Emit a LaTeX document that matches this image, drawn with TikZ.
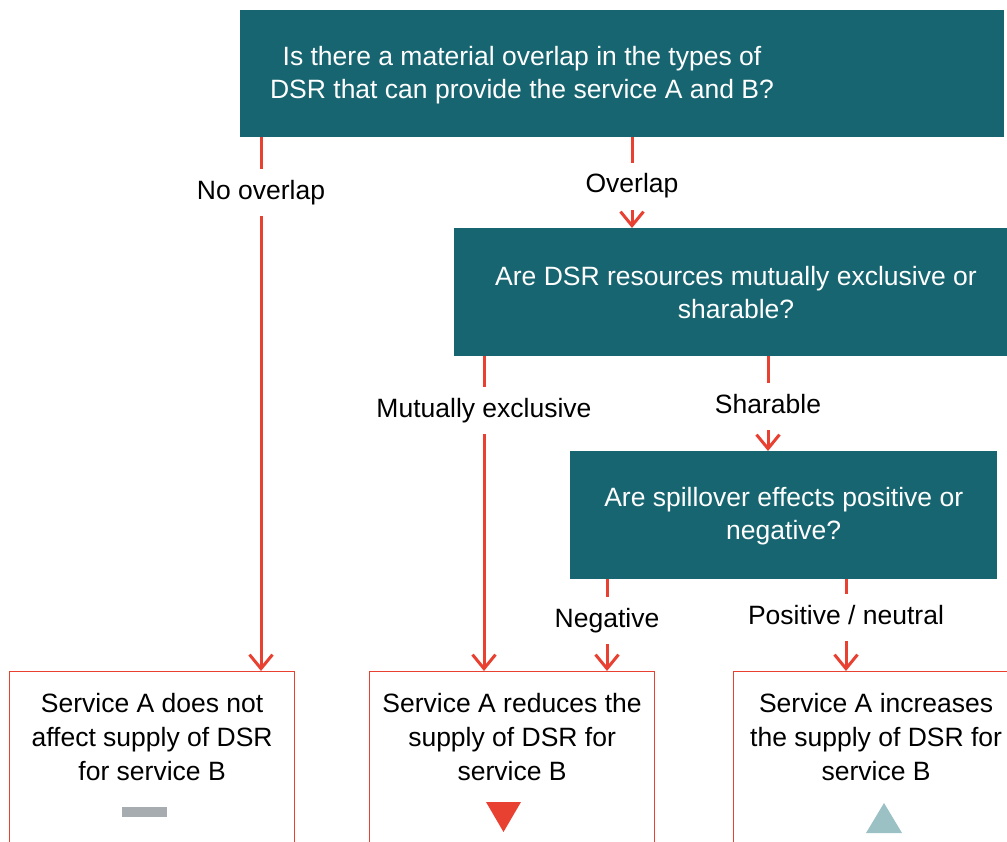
\documentclass[tikz,border=0pt]{standalone}
\usepackage{fontspec}
\setmainfont{Liberation Sans}
\usetikzlibrary{arrows.meta}
\definecolor{tealbox}{RGB}{23,101,112}
\definecolor{redline}{RGB}{232,65,50}
\definecolor{greymark}{RGB}{166,172,175}
\definecolor{lighttealmark}{RGB}{155,193,196}
\begin{document}
\begin{tikzpicture}[x=1pt,y=-1pt,
  font=\fontsize{26.5}{33}\selectfont,
  qbox/.style={fill=tealbox, inner sep=0pt, anchor=north west},
  qtext/.style={text=white, align=center, inner sep=0pt},
  obox/.style={draw=redline, line width=1.2pt, anchor=north west, inner sep=0pt, minimum width=285pt, minimum height=200pt},
  otext/.style={align=center, anchor=north, inner sep=0pt, text=black, font=\fontsize{26.5}{34}\selectfont},
  conn/.style={draw=redline, line width=3pt, -{Straight Barb[length=14pt,width=23pt]}},
  lbl/.style={fill=white, text=black, inner xsep=3pt, inner ysep=11pt, text height=19pt, text depth=6pt}]
\useasboundingbox (0,0) rectangle (1007,842);
\clip (0,0) rectangle (1007,842);

% question boxes
\node[qbox, minimum width=764pt, minimum height=127pt] (q1) at (240,10) {};
\node[qtext] (q1t) at (522,75)
  {Is there a material overlap in the types of\\DSR that can provide the service A and B?};
\node[qbox, minimum width=553pt, minimum height=128pt] (q2) at (454,228) {};
\node[qtext] (q2t) at (736,293)
  {Are DSR resources mutually exclusive or\\sharable?};
\node[qbox, minimum width=427pt, minimum height=128pt] (q3) at (570,451) {};
\node[qtext] (q3t) at ([yshift=-1pt]q3.center)
  {Are spillover effects positive or\\negative?};

% outcome boxes
\node[obox] (oA) at (9,671) {};
\node[obox] (oB) at (369,671) {};
\node[obox] (oC) at (733,671) {};
\node[otext] (tA) at ([yshift=-22pt]oA.north) {Service A does not\\affect supply of DSR\\for service B};
\node[otext] (tB) at ([yshift=-22pt]oB.north) {Service A reduces the\\supply of DSR for\\service B};
\node[otext] (tC) at ([yshift=-22pt]oC.north) {Service A increases\\the supply of DSR for\\service B};

% symbols
\fill[greymark] (122,807) rectangle (167,817);
\fill[redline] (486,802) -- (521,802) -- (503.5,832) -- cycle;
\fill[lighttealmark] (866,833) -- (902,833) -- (884,803) -- cycle;

% connector columns
\coordinate (xA) at (261,0);
\coordinate (xOv) at (632,0);
\coordinate (xMe) at (484,0);
\coordinate (xSh) at (768,0);
\coordinate (xNeg) at (607,0);
\coordinate (xPos) at (846,0);

\draw[conn] (q1.south -| xA) -- node[lbl,pos=0.104]{No overlap} (oA.north -| xA);
\draw[conn] (q1.south -| xOv) -- node[lbl,pos=0.54]{Overlap} (q2.north -| xOv);
\draw[conn] (q2.south -| xMe) -- node[lbl,pos=0.172]{Mutually exclusive} (oB.north -| xMe);
\draw[conn] (q2.south -| xSh) -- node[lbl,pos=0.53]{Sharable} (q3.north -| xSh);
\draw[conn] (q3.south -| xNeg) -- node[lbl,pos=0.45]{Negative} (oB.north -| xNeg);
\draw[conn] (q3.south -| xPos) -- node[lbl,pos=0.42]{Positive / neutral} (oC.north -| xPos);
\end{tikzpicture}
\end{document}
